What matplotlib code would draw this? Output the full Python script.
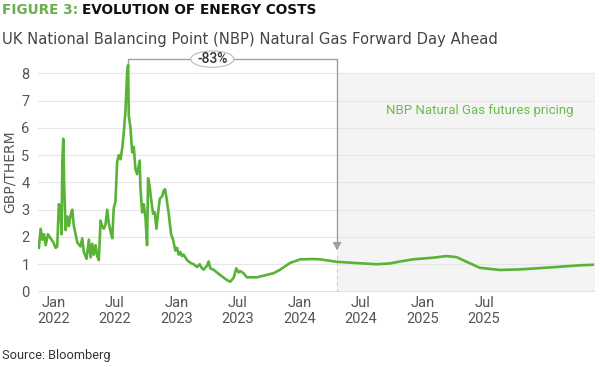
import matplotlib
matplotlib.use("Agg")
import matplotlib.pyplot as plt
from matplotlib.patches import Ellipse

# ---- data (x in decimal years) ----
hist_t = [2021.883, 2021.897, 2021.911, 2021.924, 2021.938, 2021.956, 2021.978, 2022.000,
          2022.019, 2022.032, 2022.045, 2022.059, 2022.067, 2022.073, 2022.081, 2022.089,
          2022.100, 2022.114, 2022.127, 2022.140, 2022.154, 2022.167, 2022.195, 2022.221,
          2022.235, 2022.248, 2022.270, 2022.289, 2022.303, 2022.316, 2022.329, 2022.343,
          2022.357, 2022.370, 2022.384, 2022.397, 2022.410, 2022.424, 2022.438, 2022.451,
          2022.465, 2022.479, 2022.491, 2022.505, 2022.519, 2022.532, 2022.546, 2022.560,
          2022.573, 2022.586, 2022.600, 2022.608, 2022.613, 2022.627, 2022.641, 2022.654,
          2022.667, 2022.681, 2022.702, 2022.708, 2022.722, 2022.735, 2022.749, 2022.762,
          2022.770, 2022.783, 2022.797, 2022.811, 2022.824, 2022.838, 2022.852, 2022.865,
          2022.876, 2022.886, 2022.897, 2022.908, 2022.919, 2022.938, 2022.957, 2022.973,
          2022.992, 2023.006, 2023.019, 2023.032, 2023.046, 2023.059, 2023.087, 2023.114,
          2023.140, 2023.168, 2023.189, 2023.208, 2023.221, 2023.249, 2023.262, 2023.276,
          2023.302, 2023.357, 2023.411, 2023.438, 2023.465, 2023.487, 2023.505, 2023.519,
          2023.546, 2023.573]
hist_v = [1.6, 2.3, 1.9, 2.1, 1.7, 2.1, 1.95, 1.8,
          1.6, 1.65, 3.2, 3.0, 2.1, 4.7, 5.6, 3.8,
          2.25, 2.75, 2.4, 2.8, 3.0, 2.4, 1.8, 1.65,
          1.95, 1.45, 1.2, 1.9, 1.25, 1.75, 1.35, 1.7,
          1.3, 1.15, 2.6, 2.4, 2.3, 2.45, 3.0, 2.5,
          2.2, 1.95, 3.05, 3.3, 4.75, 5.0, 4.85, 5.25,
          5.85, 6.6, 8.05, 8.3, 6.45, 6.0, 5.1, 5.3,
          4.5, 4.3, 4.8, 3.8, 2.9, 3.2, 2.7, 1.7,
          4.15, 3.85, 3.3, 2.85, 2.9, 2.3, 2.9, 3.4,
          3.45, 3.5, 3.7, 3.75, 3.45, 2.85, 2.1, 1.9,
          1.5, 1.6, 1.35, 1.45, 1.3, 1.35, 1.15, 1.05,
          1.0, 0.9, 1.0, 0.85, 0.8, 0.95, 1.1, 0.85,
          0.8, 0.6, 0.42, 0.36, 0.5, 0.85, 0.7, 0.75,
          0.67, 0.52]
fwd_t = [2023.655, 2023.789, 2023.843, 2023.925, 2024.006, 2024.114, 2024.168, 2024.303,
         2024.438, 2024.628, 2024.736, 2024.817, 2024.925, 2025.087, 2025.195, 2025.277,
         2025.358, 2025.466, 2025.628, 2025.790, 2026.060, 2026.277, 2026.384]
fwd_v = [0.52, 0.67, 0.8, 1.05, 1.18, 1.19, 1.18, 1.09,
         1.05, 1.0, 1.03, 1.1, 1.18, 1.24, 1.3, 1.26,
         1.09, 0.87, 0.79, 0.81, 0.89, 0.96, 0.98]

tick_pos = [2022.0, 2022.5, 2023.0, 2023.5, 2024.0, 2024.5, 2025.0, 2025.5]
tick_labels = ["Jan\n2022", "Jul\n2022", "Jan\n2023", "Jul\n2023",
               "Jan\n2024", "Jul\n2024", "Jan\n2025", "Jul\n2025"]
y_ticks = [0, 1, 2, 3, 4, 5, 6, 7, 8]

futures_start, futures_end = 2024.306, 2026.398
peak_t, peak_v = 2022.611, 8.3
arrow_level = 8.52
arrow_end_v = 1.41
change_label = "-83%"
label_t = 2023.292

GREEN = "#58b336"
plt.rcParams['font.family'] = ['Roboto', 'DejaVu Sans']

fig = plt.figure(figsize=(6.02, 3.67), dpi=100)
ax = fig.add_axes([0.063, 0.2057, 0.925, 0.654])
XMIN, XMAX = 2021.875, 2026.40
ax.set_xlim(XMIN, XMAX)
ax.set_ylim(0, 8.8)

# shaded futures region
ax.fill_between([futures_start, futures_end], 0, 8, color="#f4f4f4", zorder=0, lw=0)
ax.plot([futures_start, futures_start], [0, arrow_end_v], ls=(0, (3, 3)), color="#cccccc", lw=0.8, zorder=1)
ax.plot([futures_end, futures_end], [0, 8], ls=(0, (3, 3)), color="#cccccc", lw=0.8, zorder=1)

for yv in y_ticks:
    ax.axhline(yv, color="#e6e6e6" if yv else "#dddddd", lw=0.8 if yv else 1.2, zorder=0.5,
               xmax=(futures_end - XMIN) / (XMAX - XMIN))

ax.plot(hist_t + fwd_t, hist_v + fwd_v, color=GREEN, lw=1.9, zorder=3, solid_joinstyle="round")

# annotation bracket
ax.plot([peak_t, peak_t, futures_start, futures_start],
        [peak_v, arrow_level, arrow_level, arrow_end_v + 0.25],
        color="#a0a0a0", lw=1.0, zorder=2, clip_on=False)
ax.annotate("", xy=(futures_start, arrow_end_v), xytext=(futures_start, arrow_end_v + 0.3),
            arrowprops=dict(arrowstyle="-|>,head_width=0.25,head_length=0.45", color="#a0a0a0", lw=1.0),
            zorder=2)
ell = Ellipse((label_t, arrow_level), width=0.35, height=0.6, facecolor="white",
              edgecolor="#bbbbbb", lw=0.8, zorder=4, clip_on=False)
ax.add_patch(ell)
ax.text(label_t, arrow_level, change_label, ha="center", va="center", fontsize=10,
        color="#333333", zorder=5, fontweight="medium")

ax.text(2025.465, 6.65, "NBP Natural Gas futures pricing", ha="center", va="center",
        fontsize=9.5, color="#6cbd4d")

for s in ax.spines.values():
    s.set_visible(False)
ax.set_yticks(y_ticks)
ax.set_yticklabels([str(v) for v in y_ticks], fontsize=10.5, color="#555555")
ax.set_xticks(tick_pos)
ax.set_xticklabels(tick_labels, fontsize=10.5, color="#555555", linespacing=1.25)
ax.tick_params(length=0, pad=3)
ax.tick_params(axis="y", pad=6)
ax.set_ylabel("GBP/THERM", fontsize=10, color="#555555", labelpad=3, family="DejaVu Sans")

fig.text(0.004, 0.972, "FIGURE 3:", fontsize=9.8, fontweight="bold", color="#6ab04c",
         va="center", family="DejaVu Sans")
fig.text(0.137, 0.972, "EVOLUTION OF ENERGY COSTS", fontsize=9.8, fontweight="bold",
         color="#111111", va="center", family="DejaVu Sans")
fig.text(0.004, 0.893, "UK National Balancing Point (NBP) Natural Gas Forward Day Ahead",
         fontsize=10.6, color="#444444", va="center", family="DejaVu Sans")
fig.text(0.004, 0.032, "Source: Bloomberg", fontsize=9.2, color="#333333", va="center")

fig.savefig("out.png", dpi=100)
